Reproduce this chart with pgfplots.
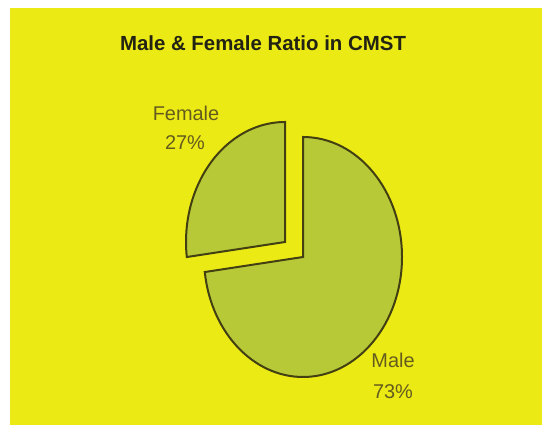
\documentclass[border=0pt]{standalone}
\usepackage{pgfplots}
\usepackage{pgfplotstable}
\pgfplotsset{compat=1.18}
\usepackage{fontspec}
\setmainfont{Liberation Sans}
\definecolor{bgyellow}{RGB}{236,234,20}
\definecolor{slicefill}{RGB}{184,201,56}
\definecolor{sliceedge}{RGB}{66,64,18}
\definecolor{labeltext}{RGB}{100,92,30}
\definecolor{titletext}{RGB}{35,35,20}

\pgfplotstableread{
label value
Female 27
Male 73
}\piedata
\pgfplotstablegetelem{0}{value}\of\piedata \let\vF\pgfplotsretval
\pgfplotstablegetelem{1}{value}\of\piedata \let\vM\pgfplotsretval
\pgfmathsetmacro{\aM}{90-3.6*\vM}
\pgfmathsetmacro{\aF}{90+3.6*\vF}

\begin{document}%
\begin{tikzpicture}
\begin{axis}[
  scale only axis, width=542bp, height=425bp,
  xmin=0, xmax=542, ymin=0, ymax=425,
  enlargelimits=false,
  hide axis, clip=false,
]
\fill[white] (axis cs:-20,-20) rectangle (axis cs:562,445);
\fill[bgyellow] (axis cs:10,-20) rectangle (axis cs:562,417);
% Male slice
\filldraw[fill=slicefill, draw=sliceedge, line width=2bp, line join=miter]
  (axis cs:303,168) -- (axis cs:303,288)
  arc[start angle=90, end angle=\aM, x radius=99bp, y radius=120bp] -- cycle;
% Female slice (exploded)
\filldraw[fill=slicefill, draw=sliceedge, line width=2bp, line join=miter]
  (axis cs:285,183) -- (axis cs:285,303)
  arc[start angle=90, end angle=\aF, x radius=99bp, y radius=120bp] -- cycle;
\node[text=titletext, font=\bfseries\fontsize{20.5}{24}\selectfont] at (axis cs:263,382) {Male \& Female Ratio in CMST};
\node[text=labeltext, font=\fontsize{20}{24}\selectfont] at (axis cs:186,312) {Female};
\node[text=labeltext, font=\fontsize{20}{24}\selectfont] at (axis cs:185,282) {\vF\%};
\node[text=labeltext, font=\fontsize{20}{24}\selectfont] at (axis cs:393,65) {Male};
\node[text=labeltext, font=\fontsize{20}{24}\selectfont] at (axis cs:393,33) {\vM\%};
\end{axis}
\pgfresetboundingbox
\path (current axis.south west) rectangle (current axis.north east);
\end{tikzpicture}%
\end{document}
